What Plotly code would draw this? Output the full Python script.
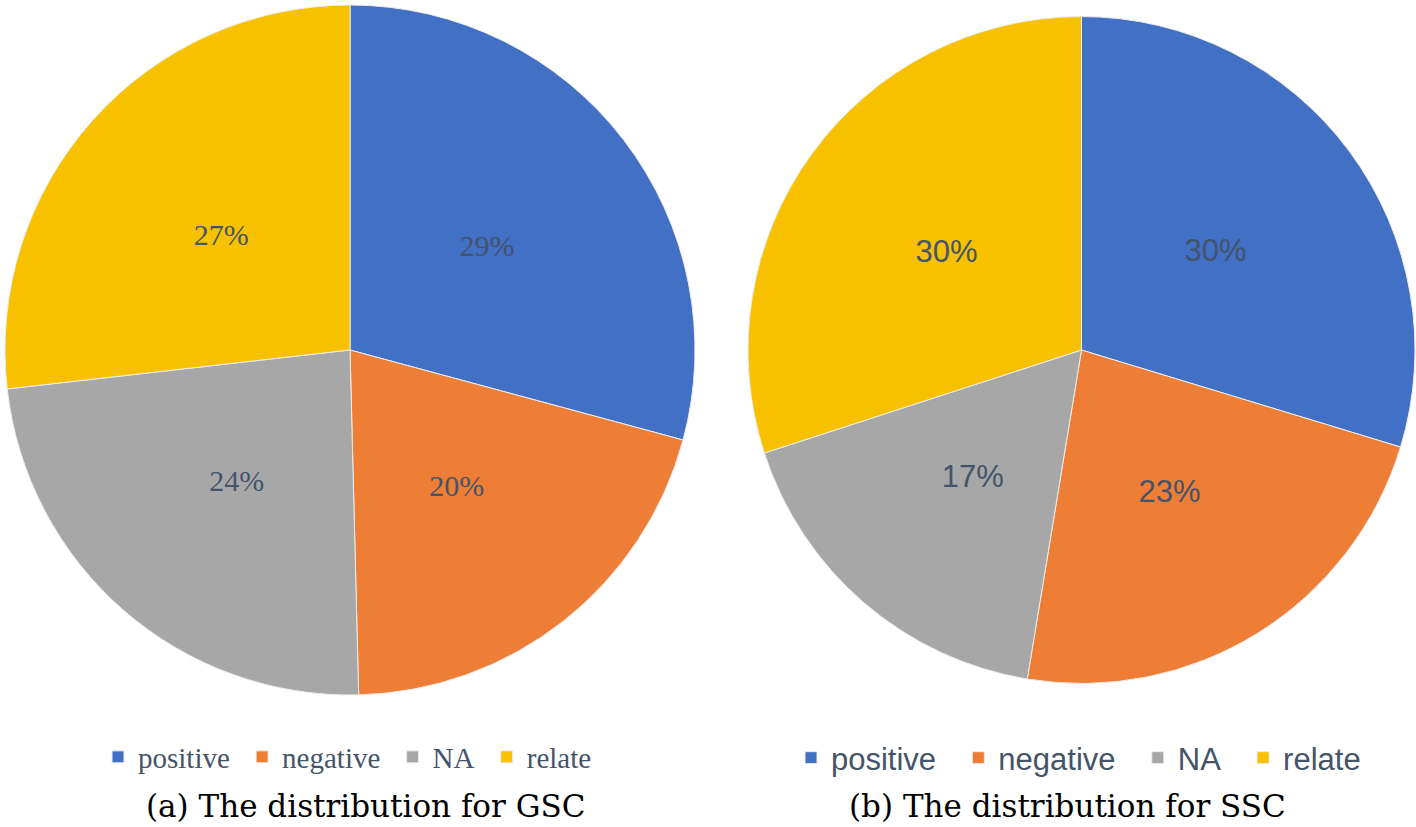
import plotly.graph_objects as go

categories = ["positive", "negative", "NA", "relate"]
# shares (%); labels show them rounded
gsc_values = [29.2, 20.4, 23.6, 26.8]
ssc_values = [29.7, 22.9, 17.4, 30.0]
colors = ["#4170C5", "#EE7E35", "#A7A7A7", "#F8C100"]
caption_a = "(a) The distribution for GSC"
caption_b = "(b) The distribution for SSC"

W, H = 1416, 827
text_color = "#44546A"
NB = "\u00a0"

# legend labels (trailing no-break spaces keep the two legends separate and add spacing)
labels_a = [c + NB for c in categories]
labels_b = [c + NB * 2 for c in categories]

# pie placement (pixels): centre x, centre y, radius
pies = [
    dict(labels=labels_a, values=gsc_values, cx=350, cy=350, r=345, legend="legend",
         font=dict(family="Liberation Serif", size=30, color=text_color)),
    dict(labels=labels_b, values=ssc_values, cx=1081.5, cy=350, r=333.5, legend="legend2",
         font=dict(family="Liberation Sans", size=31, color=text_color)),
]


def dom(cx, cy, r):
    return dict(x=[(cx - r) / W, (cx + r) / W], y=[1 - (cy + r) / H, 1 - (cy - r) / H])


fig = go.Figure()
for p in pies:
    # coloured slices
    fig.add_trace(go.Pie(
        labels=p["labels"], values=p["values"], sort=False, direction="clockwise",
        rotation=0, marker=dict(colors=colors, line=dict(color="#EDEDED", width=1)),
        textinfo="none", domain=dom(p["cx"], p["cy"], p["r"]),
        legend=p["legend"], hoverinfo="label+percent",
    ))
    # transparent ring of the same data carrying the percentage labels nearer the centre
    fig.add_trace(go.Pie(
        labels=p["labels"], values=p["values"], sort=False, direction="clockwise",
        rotation=0, hole=0.43, showlegend=False, hoverinfo="skip",
        marker=dict(colors=["rgba(0,0,0,0)"] * len(colors), line=dict(width=0)),
        texttemplate="%{percent:.0%}", textposition="inside",
        insidetextorientation="horizontal", textfont=p["font"],
        domain=dom(p["cx"], p["cy"], p["r"] * 0.7),
    ))

fig.update_layout(
    width=W, height=H,
    margin=dict(l=0, r=0, t=0, b=0),
    paper_bgcolor="white", plot_bgcolor="white",
    uniformtext=dict(minsize=10, mode="show"),
    legend=dict(orientation="h", x=98 / W, xanchor="left", y=1 - 757 / H, yanchor="middle",
                font=dict(family="Liberation Serif", size=29, color=text_color),
                itemwidth=30, bgcolor="rgba(0,0,0,0)", traceorder="normal"),
    legend2=dict(orientation="h", x=791 / W, xanchor="left", y=1 - 758 / H, yanchor="middle",
                 font=dict(family="Liberation Sans", size=31, color=text_color),
                 itemwidth=30, bgcolor="rgba(0,0,0,0)", traceorder="normal"),
    annotations=[
        dict(text=caption_a, x=366 / W, y=1 - 806 / H, xref="paper", yref="paper",
             showarrow=False, xanchor="center", yanchor="middle",
             font=dict(family="DejaVu Serif", size=31, color="black")),
        dict(text=caption_b, x=1067 / W, y=1 - 806 / H, xref="paper", yref="paper",
             showarrow=False, xanchor="center", yanchor="middle",
             font=dict(family="DejaVu Serif", size=31, color="black")),
    ],
)

fig.write_html("out.html", config={"displayModeBar": False},
               post_script="document.body.style.margin='0';")
